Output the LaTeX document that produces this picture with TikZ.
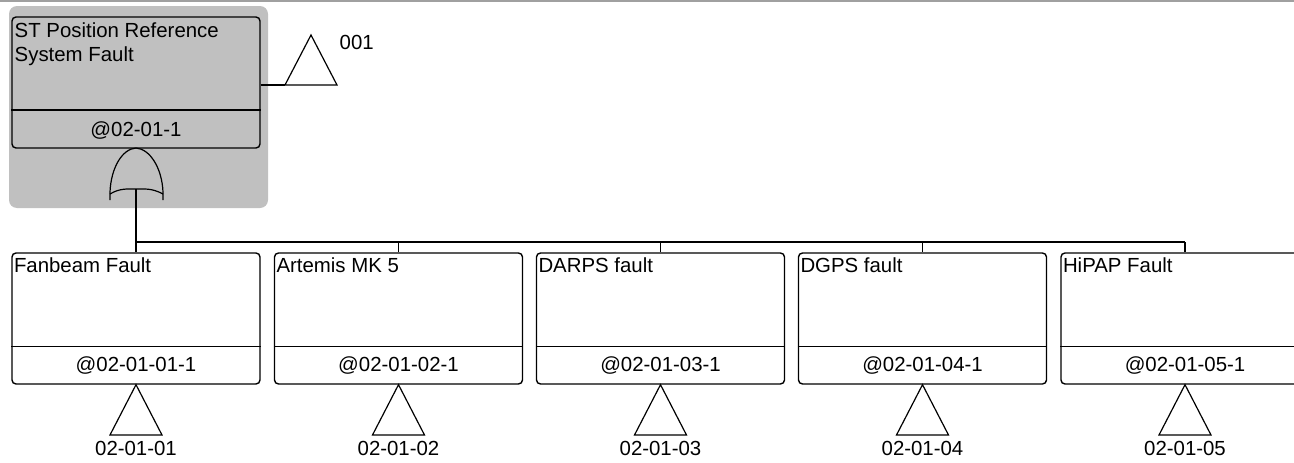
\documentclass[tikz,border=0pt]{standalone}
\usepackage{fontspec}
\setmainfont{Liberation Sans}
\definecolor{bggray}{RGB}{192,192,192}
\definecolor{topline}{RGB}{160,160,160}
\tikzset{
  evbox/.style={draw, rounded corners=4pt, minimum width=248pt, minimum height=131pt, inner sep=0pt},
  lbl/.style={font=\fontsize{20.4}{24}\selectfont, inner sep=0pt},
  tri/.style={line width=1.2pt, line join=miter},
}
\begin{document}
\begin{tikzpicture}[x=1pt,y=-1pt, line width=1.4pt]
\useasboundingbox (0,0) rectangle (1294,463);
\clip (0,0) rectangle (1294,463);
\fill[white] (0,0) rectangle (1294,463);
\draw[topline, line width=2pt] (0,1) -- (1294,1);
% highlighted top event background
\fill[bggray, rounded corners=8pt] (9,6) rectangle (268,208);
% top event
\node[evbox] (top) at (136,82.5) {};
\draw (top.west |- 0,110) -- (top.east |- 0,110);
\node[lbl, anchor=base west] (toptitle1) at (14,37) {ST Position Reference};
\node[lbl, anchor=base west] (toptitle2) at (14,61) {System Fault};
\node[lbl, anchor=base] (topid) at (136,136) {@02-01-1};
% transfer triangle 001
\coordinate (t0l) at (285,85);
\coordinate (t0a) at (311,35);
\coordinate (t0r) at (337,85);
\draw (top.east |- t0l) -- (t0l);
\draw[tri] (t0l) -- (t0a) -- (t0r) -- cycle;
\node[lbl, anchor=base west] (lab001) at (339,49) {001};
% OR gate
\coordinate (gtop) at (136,148);
\coordinate (gout) at (136,189);
\draw[line width=1.2pt] (110,200) -- (110,192) .. controls (111,168) and (122,149) .. (gtop)
   .. controls (150,149) and (162,168) .. (163,192) -- (163,200);
\draw[line width=1.2pt] (110,194) .. controls (120,188) and (128,189) .. (gout)
   .. controls (144,189) and (152,188) .. (163,194);
% bus
\coordinate (busL) at (136,242);
\coordinate (busR) at (1185,242);
\draw (gout) -- (busL) -- (busR);
% children
\foreach \i/\cx/\title in {1/136/Fanbeam Fault, 2/398.5/Artemis MK 5, 3/660.5/DARPS fault, 4/922.5/DGPS fault, 5/1185/HiPAP Fault}{
  \node[evbox] (c\i) at (\cx,318.5) {};
  \draw (c\i.west |- 0,346.5) -- (c\i.east |- 0,346.5);
  \draw (c\i.north |- busL) -- (c\i.north);
  \node[lbl, anchor=base west] (c\i title) at ([xshift=2pt]c\i.west |- 0,272) {\title};
  \node[lbl, anchor=base] (c\i id) at (\cx,371) {@02-01-0\i-1};
  \coordinate (c\i tl) at (\cx-26,435);
  \coordinate (c\i tr) at (\cx+26,435);
  \draw[tri] (c\i.south) -- (c\i tl) -- (c\i tr) -- cycle;
  \node[lbl, anchor=base] (c\i lab) at (\cx,455) {02-01-0\i};
}
\end{tikzpicture}
\end{document}
